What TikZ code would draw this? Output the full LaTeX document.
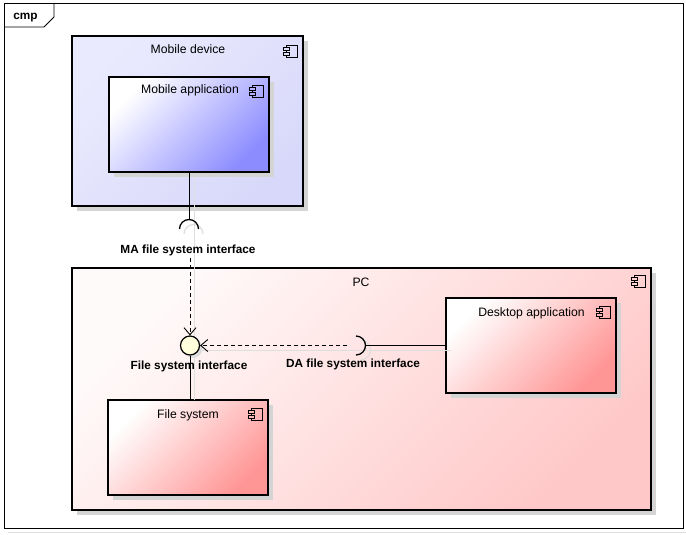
\documentclass[tikz,border=0pt]{standalone}
\usepackage{fontspec}
\setmainfont{Liberation Sans}
\usetikzlibrary{arrows.meta,shadows}
\definecolor{mdA}{RGB}{234,234,254}
\definecolor{mdB}{RGB}{216,216,250}
\definecolor{maB}{RGB}{140,140,255}
\definecolor{pcA}{RGB}{255,250,250}
\definecolor{pcB}{RGB}{255,200,200}
\definecolor{rdB}{RGB}{255,150,150}
\definecolor{shd}{RGB}{212,212,212}
\definecolor{lshd}{RGB}{222,222,222}
\definecolor{ifc}{RGB}{255,255,221}
\tikzset{
  compicon/.pic={
    \draw[line width=0.9pt] (-11,0) -- (0,0) -- (0,12) -- (-11,12) -- (-11,10)
      (-11,7) -- (-11,5.5) (-11,2.5) -- (-11,0);
    \draw[line width=0.9pt] (-14,2.5) rectangle (-8,5.5) (-14,7) rectangle (-8,10);
  }
}
\begin{document}
\begin{tikzpicture}[x=1pt,y=-1pt,
  lbl/.style={font=\fontsize{12.2}{14}\selectfont, inner sep=0pt},
  blbl/.style={font=\bfseries\fontsize{11.8}{14}\selectfont, inner sep=2pt},
  box/.style={draw=black, line width=2pt, inner sep=0pt, outer sep=0pt,
    drop shadow={shadow xshift=5pt, shadow yshift=-5pt, fill=shd, opacity=1}},
  grad/.style 2 args={top color=#1, bottom color=#2, shading angle=45},
  conn/.style={line width=0.9pt},
  dsh/.style={conn, dash pattern=on 4pt off 3pt},
  shl/.style={line width=1.2pt, draw=lshd},
  tip/.style={-{Straight Barb[length=7pt,width=12pt]}}
]
\useasboundingbox (0,0) rectangle (686,535);
\fill[white] (0,0) rectangle (686,535);
% frame
\draw[lshd, line width=1.5pt] (8,532.5) -- (686,532.5);
\draw[line width=0.8pt] (4,3) rectangle (683,528);
\draw[line width=0.8pt] (4,27) -- (44,27) -- (54,17) -- (54,3);
\node[font=\bfseries\fontsize{11.8}{14}\selectfont, anchor=base] (cmp) at (25.5,20) {cmp};

% Mobile device
\node[box, minimum width=231pt, minimum height=170pt, grad={mdA}{mdB}] (md) at (187.5,121) {};
\node[lbl, anchor=base] (mdt) at (188,54) {Mobile device};
\pic at ([xshift=-6pt,yshift=-9pt]md.north east) {compicon};

% Mobile application
\node[box, minimum width=160pt, minimum height=95pt, grad={white}{maB}] (ma) at (189,124.5) {};
\node[lbl, anchor=base] (mat) at (190,94) {Mobile application};
\pic at ([xshift=-6pt,yshift=-8pt]ma.north east) {compicon};

% PC
\node[box, minimum width=579pt, minimum height=242pt, grad={pcA}{pcB}] (pc) at (361.5,389) {};
\node[lbl, anchor=base] (pct) at (361,286) {PC};
\pic at ([xshift=-6pt,yshift=-7pt]pc.north east) {compicon};

% Desktop application
\node[box, minimum width=170pt, minimum height=95pt, grad={white}{rdB}] (da) at (531,345.5) {};
\node[lbl, anchor=base] (dat) at (531.5,316) {Desktop application};
\pic at ([xshift=-6pt,yshift=-8pt]da.north east) {compicon};

% File system
\node[box, minimum width=160pt, minimum height=95pt, grad={white}{rdB}] (fs) at (188,447.5) {};
\node[lbl, anchor=base] (fst) at (188,418.3) {File system};
\pic at ([xshift=-6pt,yshift=-8pt]fs.north east) {compicon};

% connector shadows
\draw[shl] (194.5,177) -- (194.5,400);
\draw[shl] (199,350.5) -- (451,350.5);
\draw[shl] (184,234) arc[start angle=180, end angle=360, radius=9.5];
\draw[shl] (361,340.5) arc[start angle=-90, end angle=90, radius=9.5];

% interface circle
\node[circle, draw=black, line width=1.2pt, fill=ifc, minimum size=19pt, inner sep=0pt,
  drop shadow={shadow xshift=3pt, shadow yshift=-3pt, fill=lshd, opacity=1}] (fsi) at (190,345.5) {};

% sockets
\coordinate (masock) at (189,219.5);
\coordinate (dasock) at (365.5,345.5);
\coordinate (dadash) at (347,345.5);
\draw[conn, line width=1.3pt] (179.5,229) arc[start angle=180, end angle=360, radius=9.5];
\draw[conn, line width=1.3pt] (356,336) arc[start angle=-90, end angle=90, radius=9.5];

% labels
\node[blbl, anchor=base] (malbl) at (188,253.3) {MA file system interface};
\node[blbl, anchor=base] (fsilbl) at (189,369) {File system interface};
\node[blbl, anchor=base] (dalbl) at (353,367.3) {DA file system interface};

% connectors
\draw[conn] (ma.south) -- (masock);
\draw[dsh, tip] (fsi.north |- malbl.south) -- (fsi.north);
\draw[dsh, tip] (dadash) -- (fsi.east);
\draw[conn] (dasock) -- (da.west |- dasock);
\draw[conn] (fsi.south) -- (fsi.south |- fs.north);
\end{tikzpicture}
\end{document}
